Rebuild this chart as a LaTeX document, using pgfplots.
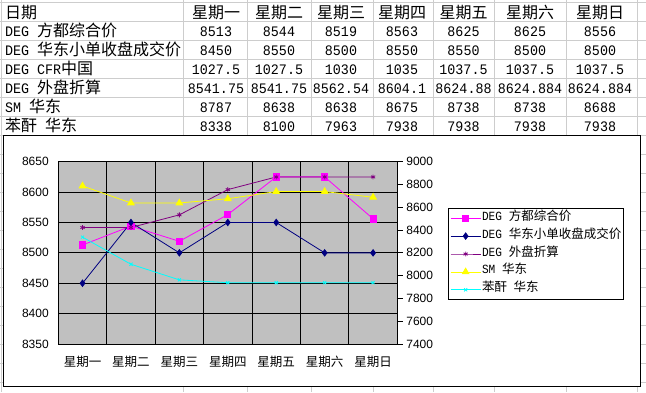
\documentclass[border=0pt]{standalone}
\usepackage{fontspec}
\usepackage{pgfplots}
\pgfplotsset{compat=1.18}
\setmainfont{Liberation Sans}
\newfontfamily\cjk{Noto Sans CJK SC}
\newfontfamily\mono[FakeStretch=0.92]{Liberation Mono}
\newfontfamily\lmono[FakeStretch=0.89]{Liberation Mono}
\definecolor{plotgray}{RGB}{192,192,192}
\definecolor{cellgray}{RGB}{205,205,205}
\definecolor{degA}{RGB}{255,0,255}
\definecolor{degB}{RGB}{0,0,128}
\definecolor{degC}{RGB}{128,0,128}
\definecolor{smY}{RGB}{255,255,0}
\definecolor{pcC}{RGB}{0,255,255}
\newcommand\tcjk{\cjk\fontsize{16}{19}\selectfont}
\newcommand\tmono{\mono\fontsize{14.5}{19}\selectfont}
\newcommand\vals[8]{%
  \node[anchor=base,inner sep=0pt] at (216,#1) {\tmono #2};
  \node[anchor=base,inner sep=0pt] at (279,#1) {\tmono #3};
  \node[anchor=base,inner sep=0pt] at (341,#1) {\tmono #4};
  \node[anchor=base,inner sep=0pt] at (402,#1) {\tmono #5};
  \node[anchor=base,inner sep=0pt] at (463.5,#1) {\tmono #6};
  \node[anchor=base,inner sep=0pt] at (530,#1) {\tmono #7};
  \node[anchor=base,inner sep=0pt] at (600,#1) {\tmono #8};}
\begin{document}
\begin{tikzpicture}[x=1pt,y=-1pt]
\useasboundingbox (0,0) rectangle (646,392);
\fill[white] (0,0) rectangle (646,392);
% table grid
\foreach \x in {1,183,247,311,373,433,494,566,637}
  \draw[cellgray,line width=0.8pt] (\x,0) -- (\x,392);
\foreach \k in {0,...,20}
  \draw[cellgray,line width=0.8pt] (0,{2.5+19*\k}) -- (646,{2.5+19*\k});
% header
\node[anchor=base west,inner sep=0pt] at (5,18.3) {\tcjk 日期};
\node[anchor=base,inner sep=0pt] at (216,18.3) {\tcjk 星期一};
\node[anchor=base,inner sep=0pt] at (279,18.3) {\tcjk 星期二};
\node[anchor=base,inner sep=0pt] at (341,18.3) {\tcjk 星期三};
\node[anchor=base,inner sep=0pt] at (402,18.3) {\tcjk 星期四};
\node[anchor=base,inner sep=0pt] at (463.5,18.3) {\tcjk 星期五};
\node[anchor=base,inner sep=0pt] at (530,18.3) {\tcjk 星期六};
\node[anchor=base,inner sep=0pt] at (600,18.3) {\tcjk 星期日};
% row labels
\node[anchor=base west,inner sep=0pt] at (5,36.9) {{\tmono DEG }\tcjk 方都综合价};
\node[anchor=base west,inner sep=0pt] at (5,55.9) {{\tmono DEG }\tcjk 华东小单收盘成交价};
\node[anchor=base west,inner sep=0pt] at (5,74.9) {{\tmono DEG CFR}\tcjk 中国};
\node[anchor=base west,inner sep=0pt] at (5,93.9) {{\tmono DEG }\tcjk 外盘折算};
\node[anchor=base west,inner sep=0pt] at (5,112.9) {{\tmono SM }\tcjk 华东};
\node[anchor=base west,inner sep=0pt] at (5,131.9) {{\tcjk 苯酐}{\tmono\ }\tcjk 华东};
\vals{36.9}{8513}{8544}{8519}{8563}{8625}{8625}{8556}
\vals{55.9}{8450}{8550}{8500}{8550}{8550}{8500}{8500}
\vals{74.9}{1027.5}{1027.5}{1030}{1035}{1037.5}{1037.5}{1037.5}
\vals{93.9}{8541.75}{8541.75}{8562.54}{8604.1}{8624.88}{8624.884}{8624.884}
\vals{112.9}{8787}{8638}{8638}{8675}{8738}{8738}{8688}
\vals{131.9}{8338}{8100}{7963}{7938}{7938}{7938}{7938}
% chart frame
\draw[black,line width=1pt,fill=white] (3,135.5) rectangle (640,386);
\begin{axis}[
  at={(58.3pt,-344pt)}, anchor=south west,
  scale only axis, width=339pt, height=182.3pt,
  xmin=-0.5, xmax=6.5, ymin=8350, ymax=8650,
  ytick={8350,8400,...,8650},
  xtick={0,...,6},
  xticklabels={星期一,星期二,星期三,星期四,星期五,星期六,星期日},
  minor xtick={0.5,1.5,...,5.5},
  xminorgrids=true, ymajorgrids=true,
  major tick length=0pt, minor tick length=0pt,
  axis background/.style={fill=plotgray},
  axis line style={black,line width=0.9pt},
  major grid style={black,line width=0.9pt},
  minor grid style={black,line width=0.9pt},
  tick label style={font=\fontsize{12}{14}\selectfont},
  xticklabel style={font=\cjk\fontsize{12.5}{14}\selectfont,yshift=-8.5pt},
  yticklabel style={xshift=-6pt},
  /pgf/number format/assume math mode=true,
  /pgf/number format/1000 sep={},
]
\addplot[degA,line width=0.8pt,mark=square*,mark size=3.1pt,mark options={solid,fill=degA}]
  coordinates {(0,8513)(1,8544)(2,8519)(3,8563)(4,8625)(5,8625)(6,8556)};
\addplot[degB,line width=0.8pt,mark=diamond*,mark size=3.2pt,mark options={solid,fill=degB}]
  coordinates {(0,8450)(1,8550)(2,8500)(3,8550)(4,8550)(5,8500)(6,8500)};
\addplot[degC,line width=0.8pt,mark=asterisk,mark size=2.4pt,mark options={solid}]
  coordinates {(0,8541.75)(1,8541.75)(2,8562.54)(3,8604.1)(4,8624.88)(5,8624.884)(6,8624.884)};
\end{axis}
\begin{axis}[
  at={(58.3pt,-344pt)}, anchor=south west,
  scale only axis, width=339pt, height=182.3pt,
  xmin=-0.5, xmax=6.5, ymin=7400, ymax=9000,
  axis y line*=right, axis x line=none,
  ytick={7400,7600,...,9000},
  tick align=outside, major tick length=5.5pt,
  tick style={black,line width=0.9pt},
  axis line style={black,line width=0.9pt},
  tick label style={font=\fontsize{12}{14}\selectfont},
  /pgf/number format/assume math mode=true,
  /pgf/number format/1000 sep={},
  legend image code/.code={\draw[mark repeat=2,mark phase=2,#1] plot coordinates {(0pt,0pt)(15pt,0pt)(30pt,0pt)};},
  legend cell align=left,
  legend style={at={(1,1)}, anchor=north west, xshift=51pt, yshift=-46.6pt,
    draw=black, line width=0.9pt, inner xsep=1.5pt, inner ysep=0.5pt, row sep=0pt,
    nodes={inner xsep=1pt, inner ysep=0pt, text height=11pt, text depth=6.9pt},
    font=\cjk\fontsize{12.5}{14}\selectfont},
]
\addlegendimage{degA,line width=0.8pt,mark=square*,mark size=3.1pt,mark options={solid,fill=degA}}
\addlegendentry{{\lmono DEG }方都综合价}
\addlegendimage{degB,line width=0.8pt,mark=diamond*,mark size=3.2pt,mark options={solid,fill=degB}}
\addlegendentry{{\lmono DEG }华东小单收盘成交价}
\addlegendimage{degC,line width=0.8pt,mark=asterisk,mark size=2.4pt,mark options={solid}}
\addlegendentry{{\lmono DEG }外盘折算}
\addplot[smY,line width=0.8pt,mark=triangle*,mark size=3.8pt,mark options={solid,fill=smY}]
  coordinates {(0,8787)(1,8638)(2,8638)(3,8675)(4,8738)(5,8738)(6,8688)};
\addlegendentry{{\lmono SM }华东}
\addplot[pcC,line width=0.8pt,mark=x,mark size=2.2pt,mark options={solid}]
  coordinates {(0,8338)(1,8100)(2,7963)(3,7938)(4,7938)(5,7938)(6,7938)};
\addlegendentry{苯酐{\lmono\ }华东}
\end{axis}
\end{tikzpicture}
\end{document}
